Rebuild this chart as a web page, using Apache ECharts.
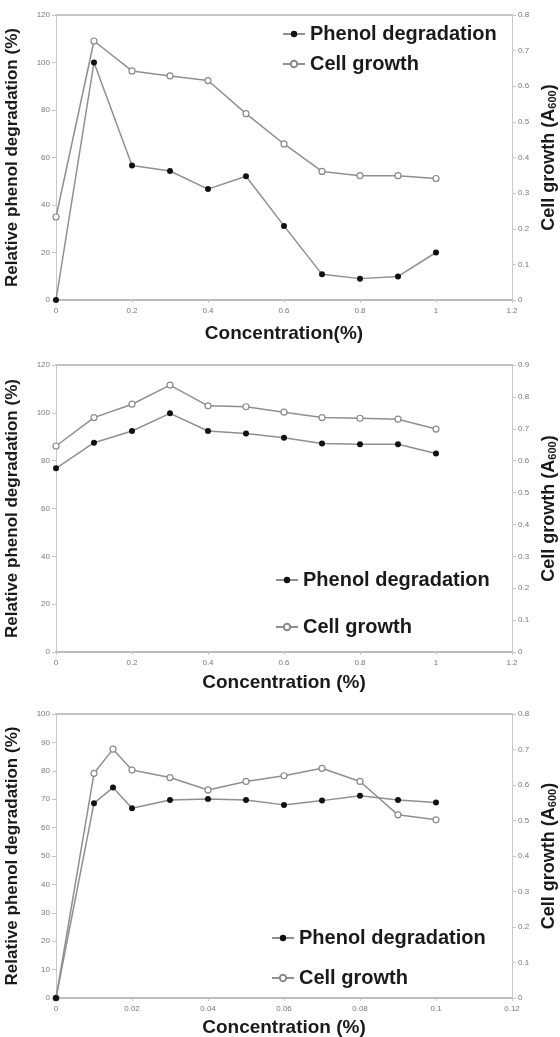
<!DOCTYPE html>
<html>
<head>
<meta charset="utf-8">
<script src="https://cdn.jsdelivr.net/npm/echarts@6/dist/echarts.min.js"></script>
<style>
  html, body { margin: 0; padding: 0; background: #fff; }
  #chart { width: 560px; height: 1037px; }
</style>
</head>
<body>
<div id="chart"></div>
<script>
// panel 1
const conc1 = [0, 0.1, 0.2, 0.3, 0.4, 0.5, 0.6, 0.7, 0.8, 0.9, 1];
const phenol1 = [0, 100, 56.6, 54.3, 46.7, 52.1, 31.2, 10.8, 9.0, 9.9, 20.0];
const growth1 = [0.233, 0.727, 0.643, 0.629, 0.616, 0.523, 0.438, 0.361, 0.349, 0.349, 0.341];
// panel 2
const conc2 = [0, 0.1, 0.2, 0.3, 0.4, 0.5, 0.6, 0.7, 0.8, 0.9, 1];
const phenol2 = [76.8, 87.5, 92.4, 99.8, 92.4, 91.4, 89.6, 87.2, 86.9, 86.9, 83.0];
const growth2 = [0.646, 0.735, 0.777, 0.837, 0.772, 0.769, 0.752, 0.735, 0.733, 0.730, 0.699];
// panel 3
const conc3 = [0, 0.01, 0.015, 0.02, 0.03, 0.04, 0.05, 0.06, 0.07, 0.08, 0.09, 0.1];
const phenol3 = [0, 68.6, 74.1, 66.8, 69.7, 70.1, 69.7, 68.0, 69.5, 71.2, 69.7, 68.8];
const growth3 = [0, 0.633, 0.701, 0.642, 0.621, 0.586, 0.610, 0.626, 0.647, 0.610, 0.516, 0.502];

const xTitles = ['Concentration(%)', 'Concentration (%)', 'Concentration (%)'];
const leftTitle = 'Relative phenol degradation (%)';
const rightTitle = 'Cell growth (A{s|600})';
const legendNames = ['Phenol degradation', 'Cell growth'];

const FONT = '"Liberation Sans", Arial, sans-serif';
const lineGray = '#8f8f8f';
const axisGray = '#c8c8c8';
const labelStyle = { fontSize: 8, color: '#777', fontFamily: FONT };

const panels = [
  { conc: conc1, phenol: phenol1, growth: growth1, top: 15, height: 285,
    xMax: 1.2, xInt: 0.2, yMax: 120, yInt: 20, rMax: 0.8, xGap: 24,
    legTop: 24, legLeft: 282, legGap: 10 },
  { conc: conc2, phenol: phenol2, growth: growth2, top: 365, height: 287,
    xMax: 1.2, xInt: 0.2, yMax: 120, yInt: 20, rMax: 0.9, xGap: 21,
    legTop: 570, legLeft: 275, legGap: 27 },
  { conc: conc3, phenol: phenol3, growth: growth3, top: 714, height: 284,
    xMax: 0.12, xInt: 0.02, yMax: 100, yInt: 10, rMax: 0.8, xGap: 20,
    legTop: 928, legLeft: 271, legGap: 20 }
];

const grid = [], xAxis = [], yAxis = [], series = [], legend = [];

panels.forEach(function (p, i) {
  grid.push({ left: 56, right: 48, top: p.top, height: p.height, outerBoundsMode: 'none', containLabel: false });

  // bottom axis
  xAxis.push({
    type: 'value', gridIndex: i, position: 'bottom', min: 0, max: p.xMax, interval: p.xInt,
    name: xTitles[i], nameLocation: 'middle', nameGap: p.xGap,
    nameTextStyle: { fontSize: 19, fontWeight: 'bold', color: '#1a1a1a', fontFamily: FONT },
    axisLine: { show: true, onZero: false, lineStyle: { color: '#bdbdbd', width: 2 } },
    axisTick: { show: true, length: 3, lineStyle: { color: axisGray } },
    axisLabel: Object.assign({ margin: 7 }, labelStyle),
    splitLine: { show: false }
  });
  // top border
  xAxis.push({
    type: 'value', gridIndex: i, position: 'top', min: 0, max: p.xMax,
    axisLine: { show: true, onZero: false, lineStyle: { color: '#c4c4c4', width: 2 } },
    axisTick: { show: false }, axisLabel: { show: false }, splitLine: { show: false }
  });

  yAxis.push({
    type: 'value', gridIndex: i, position: 'left', min: 0, max: p.yMax, interval: p.yInt,
    name: leftTitle, nameLocation: 'middle', nameRotate: 90, nameGap: 35,
    nameTextStyle: { fontSize: 17, fontWeight: 'bold', color: '#1a1a1a', fontFamily: FONT },
    axisLine: { show: true, onZero: false, lineStyle: { color: axisGray } },
    axisTick: { show: true, length: 4, lineStyle: { color: axisGray } },
    axisLabel: Object.assign({ margin: 6 }, labelStyle),
    splitLine: { show: false }
  });
  yAxis.push({
    type: 'value', gridIndex: i, position: 'right', min: 0, max: p.rMax, interval: 0.1,
    name: rightTitle, nameLocation: 'middle', nameRotate: 90, nameGap: 27,
    nameTextStyle: {
      fontSize: 18, fontWeight: 'bold', color: '#1a1a1a', fontFamily: FONT,
      rich: { s: { fontSize: 11, fontWeight: 'bold', color: '#1a1a1a', fontFamily: FONT, verticalAlign: 'bottom', padding: [8, 0, 0, 0] } }
    },
    axisLine: { show: true, onZero: false, lineStyle: { color: axisGray } },
    axisTick: { show: true, length: 4, lineStyle: { color: axisGray } },
    axisLabel: Object.assign({ margin: 6, formatter: function (v) { return v === 0 ? '0' : v.toFixed(1); } }, labelStyle),
    splitLine: { show: false }
  });

  series.push({
    name: 'Cell growth', type: 'line', xAxisIndex: i * 2, yAxisIndex: i * 2 + 1,
    data: p.conc.map(function (c, k) { return [c, p.growth[k]]; }),
    symbol: 'circle', symbolSize: 6,
    lineStyle: { color: lineGray, width: 1.5 },
    itemStyle: { color: '#fff', borderColor: '#8a8a8a', borderWidth: 1.2 },
    animation: false
  });
  series.push({
    name: 'Phenol degradation', type: 'line', xAxisIndex: i * 2, yAxisIndex: i * 2,
    data: p.conc.map(function (c, k) { return [c, p.phenol[k]]; }),
    symbol: 'circle', symbolSize: 6,
    lineStyle: { color: lineGray, width: 1.5 },
    itemStyle: { color: '#111', borderColor: '#111', borderWidth: 0 },
    animation: false
  });

  legend.push({
    data: legendNames, orient: 'vertical', left: p.legLeft, top: p.legTop, padding: 0,
    itemGap: p.legGap, itemWidth: 22, itemHeight: 8, selectedMode: false,
    textStyle: { fontSize: 20, fontWeight: 'bold', color: '#1a1a1a', fontFamily: FONT }
  });
});

const chart = echarts.init(document.getElementById('chart'), null, { renderer: 'canvas' });
chart.setOption({
  backgroundColor: '#fff',
  animation: false,
  grid: grid,
  xAxis: xAxis,
  yAxis: yAxis,
  legend: legend,
  series: series
});
</script>
</body>
</html>
